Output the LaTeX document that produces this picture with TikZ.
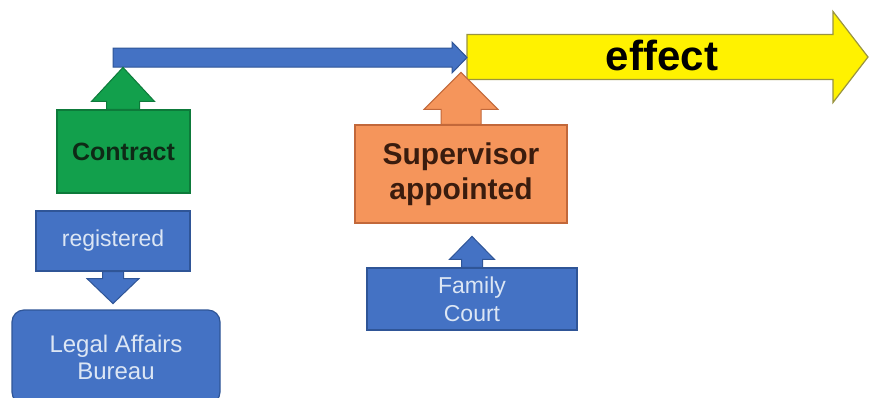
\documentclass[tikz,border=0pt]{standalone}
\usepackage{fontspec}
\setmainfont{Liberation Sans}
\usetikzlibrary{calc}
\definecolor{bluF}{HTML}{4472C4}
\definecolor{bluD}{HTML}{2F5597}
\definecolor{grnF}{HTML}{12A04C}
\definecolor{grnD}{HTML}{0D7A3A}
\definecolor{grnT}{HTML}{0E2A16}
\definecolor{orgF}{HTML}{F5955B}
\definecolor{orgD}{HTML}{C2683A}
\definecolor{orgT}{HTML}{3A1C0E}
\definecolor{yelF}{HTML}{FFF200}
\definecolor{yelD}{HTML}{9A9440}
\definecolor{litT}{HTML}{DCE6F4}
% vertical block arrow: #1 style, #2 base, #3 tip, #4 shaft half width, #5 head half width, #6 signed head-base offset from tip (canvas y)
\newcommand\vblockarrow[6]{%
  \draw[#1] let \p1=(#2), \p2=(#3) in
    (\x2-#4pt,\y1) -- (\x2-#4pt,\y2+#6pt) -- (\x2-#5pt,\y2+#6pt) -- (\x2,\y2)
    -- (\x2+#5pt,\y2+#6pt) -- (\x2+#4pt,\y2+#6pt) -- (\x2+#4pt,\y1) -- cycle;}
% horizontal block arrow to the right: #1 style, #2 tail, #3 tip, #4 shaft half, #5 head half, #6 head length
\newcommand\hblockarrow[6]{%
  \draw[#1] let \p1=(#2), \p2=(#3) in
    (\x1,\y2+#4pt) -- (\x2-#6pt,\y2+#4pt) -- (\x2-#6pt,\y2+#5pt) -- (\x2,\y2)
    -- (\x2-#6pt,\y2-#5pt) -- (\x2-#6pt,\y2-#4pt) -- (\x1,\y2-#4pt) -- cycle;}
\begin{document}
\begin{tikzpicture}[x=1pt,y=-1pt,
  box/.style={rectangle, inner sep=0pt, line width=1.2pt, align=center},
  bluebox/.style={box, fill=bluF, draw=bluD, text=litT,
     font=\fontsize{23}{28}\selectfont},
  barrow/.style={fill=bluF, draw=bluD, line width=1pt, line join=miter},
  garrow/.style={fill=grnF, draw=grnD, line width=1pt},
  oarrow/.style={fill=orgF, draw=orgD, line width=1pt},
  yarrow/.style={fill=yelF, draw=yelD, line width=1.2pt}]
\useasboundingbox (0,0) rectangle (869,397);
\fill[white] (0,0) rectangle (869,397);

% boxes
\node[box, fill=grnF, draw=grnD, text=grnT, minimum width=133pt, minimum height=83pt,
      font=\fontsize{25}{30}\bfseries\selectfont] (contract) at (123.5,151.5) {Contract};
\node[box, fill=orgF, draw=orgD, text=orgT, minimum width=212pt, minimum height=98pt,
      font=\fontsize{30}{35}\bfseries\selectfont] (supervisor) at (461,174) {Supervisor\\appointed};
\node[bluebox, minimum width=154pt, minimum height=60pt] (registered) at (113,241) {registered};
\node[bluebox, rounded corners=12pt, minimum width=208pt, minimum height=94pt,
      font=\fontsize{24}{27}\selectfont] (legal) at (116,357) {Legal Affairs\\Bureau};
\node[bluebox, minimum width=210pt, minimum height=62pt,
      font=\fontsize{23}{28}\selectfont] (family) at (472,299) {Family\\Court};

% timeline coordinates
\coordinate (tstart) at (113,57.5);
\coordinate (ytail) at (467,56.5);
\coordinate (ytip) at (868,57);

% yellow effect arrow
\hblockarrow{yarrow}{ytail}{ytip}{22.5}{45.5}{35}
\node[font=\fontsize{42}{48}\bfseries\selectfont, text=black, inner sep=0pt] (effect) at (662,55) {effect};

% blue timeline arrow
\coordinate (btip) at (ytail |- tstart);
\hblockarrow{barrow}{tstart}{btip}{9.5}{15.5}{15}

% vertical block arrows
\coordinate (gtip) at ($(contract.north)+(-0.5,-42)$);
\vblockarrow{garrow}{contract.north}{gtip}{16.5}{31.5}{-34}
\coordinate (otip) at ($(supervisor.north)+(0,-52)$);
\vblockarrow{oarrow}{supervisor.north}{otip}{20}{37}{-37}
\coordinate (rtip) at ($(registered.south)+(0,32)$);
\vblockarrow{barrow}{registered.south}{rtip}{10.5}{26}{25}
\coordinate (ftip) at ($(family.north)+(0,-31)$);
\vblockarrow{barrow}{family.north}{ftip}{10.5}{22.5}{-23}
\end{tikzpicture}
\end{document}
